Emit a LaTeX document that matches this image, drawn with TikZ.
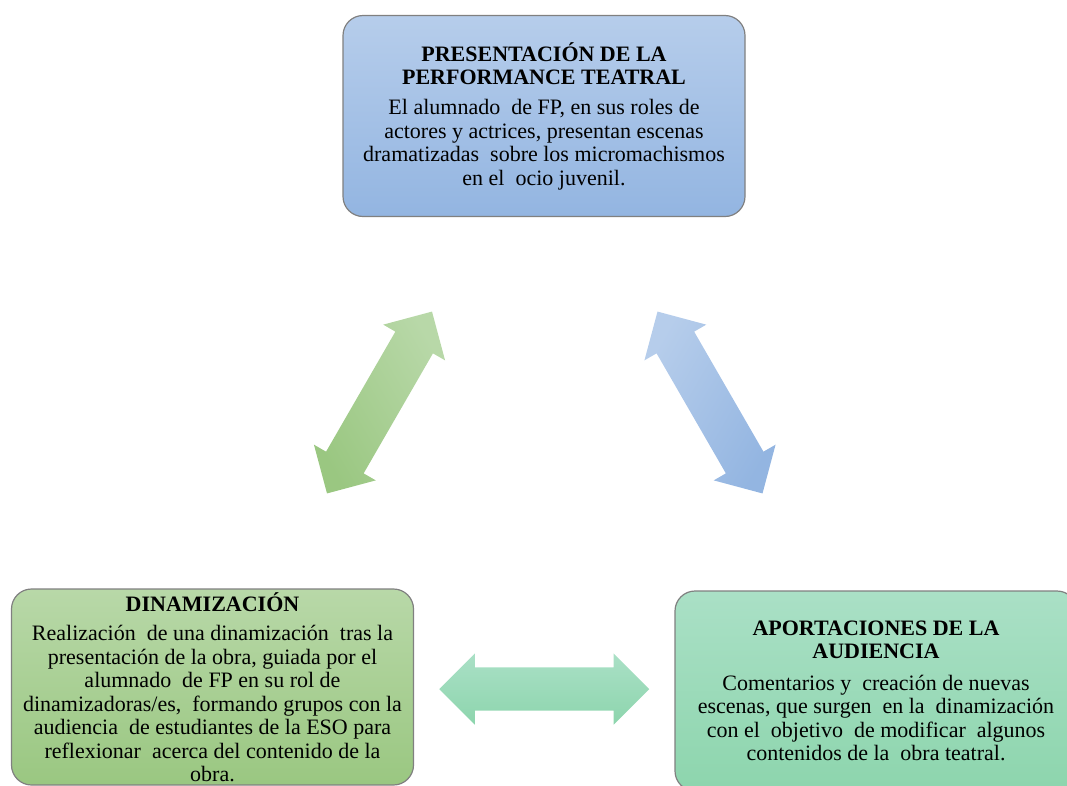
\documentclass[tikz,border=0pt]{standalone}
\usepackage{fontspec}
\setmainfont{Liberation Serif}
\usepackage{xcolor}
\usepackage{tikz}
\usetikzlibrary{calc, positioning, shapes.arrows}
\definecolor{blueTop}{RGB}{182,205,235}
\definecolor{blueBot}{RGB}{147,181,225}
\definecolor{greenTop}{RGB}{184,216,168}
\definecolor{greenBot}{RGB}{154,199,129}
\definecolor{mintTop}{RGB}{170,224,198}
\definecolor{mintBot}{RGB}{141,213,173}
\tikzset{
    stage/.style={rectangle, rounded corners=20pt, draw=black!50, line width=1.2pt, align=center, minimum width=402pt, inner sep=0pt, font=\fontsize{22}{23.5}\selectfont},
    link/.style={double arrow, double arrow head extend=14pt, double arrow tip angle=90, inner xsep=0pt, inner ysep=21.5pt, minimum height=210pt, draw=none}
}
\begin{document}
\begin{tikzpicture}[x=1pt, y=-1pt]
        \useasboundingbox (0,0) rectangle (1067,785);
        \clip (0,0) rectangle (1067,785);
        % Stages
        \node[stage, minimum height=201pt, top color=blueTop, bottom color=blueBot] (Pres) at (544,116)
            {\textbf{PRESENTACIÓN DE LA}\\\textbf{PERFORMANCE TEATRAL}\\[6.5pt]
             El alumnado \ de FP, en sus roles de\\actores y actrices, presentan escenas\\dramatizadas \ sobre los micromachismos\\en el \ ocio juvenil.};
        \node[stage, minimum height=196pt, top color=greenTop, bottom color=greenBot] (Dinam) at (212.5,687)
            {\textbf{DINAMIZACIÓN}\\[6pt]
             Realización \ de una dinamización \ tras la\\presentación de la obra, guiada por el\\alumnado \ de FP en su rol de\\dinamizadoras/es, \ formando grupos con la\\audiencia \ de estudiantes de la ESO para\\reflexionar \ acerca del contenido de la\\obra.};
        \node[stage, minimum height=200pt, top color=mintTop, bottom color=mintBot] (Aport) at (876,691)
            {\textbf{APORTACIONES DE LA}\\\textbf{AUDIENCIA}\\[8pt]
             Comentarios y \ creación de nuevas\\escenas, que surgen \ en la \ dinamización\\con el \ objetivo \ de modificar \ algunos\\contenidos de la \ obra teatral.};
        
        % Links
        \node[link, rotate=60, top color=greenTop, bottom color=greenBot, shading angle=-60] (LinkL) at (379.5,402.5) {};
        \node[link, rotate=-60, top color=blueTop, bottom color=blueBot, shading angle=60] (LinkR) at (710,402.5) {};
        \node[link, top color=mintTop, bottom color=mintBot] (LinkB) at ($(Dinam.east)!0.5!(Aport.west)$) {};

    \end{tikzpicture}
\end{document}
